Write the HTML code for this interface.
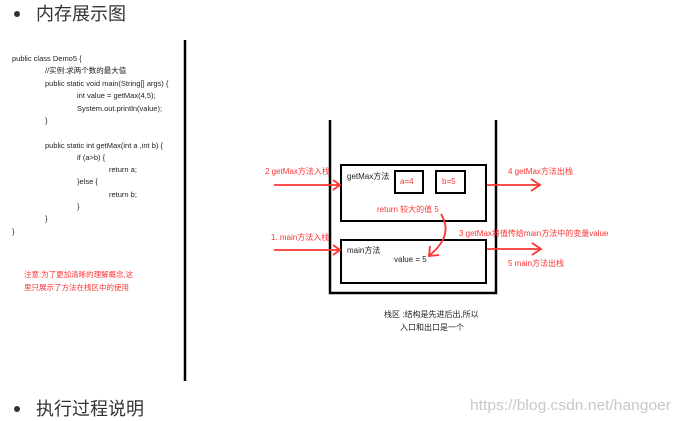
<!DOCTYPE html>
<html><head><meta charset="utf-8"><style>
html,body{margin:0;padding:0;background:#fff;width:681px;height:421px;overflow:hidden}
svg{display:block}
text{font-family:"Liberation Sans","Noto Sans CJK SC",sans-serif}
</style></head><body>
<svg width="681" height="421" viewBox="0 0 681 421">
<circle cx="17" cy="14" r="3" fill="#333"/>
<text x="36" y="20" font-size="18" fill="#333">内存展示图</text>
<circle cx="17" cy="409" r="3" fill="#333"/>
<text x="36" y="415" font-size="18" fill="#333">执行过程说明</text>
<text x="470" y="410" font-size="15" fill="#c8c8c8" textLength="201" lengthAdjust="spacingAndGlyphs">https://blog.csdn.net/hangoer</text>
<line x1="185" y1="40" x2="185" y2="381" stroke="#000" stroke-width="2.5"/>
<g font-size="7.5" fill="#222">
<text x="12" y="61">public class Demo5 {</text>
<text x="45" y="73">//实例:求两个数的最大值</text>
<text x="45" y="86">public static void main(String[] args) {</text>
<text x="77" y="98">int value = getMax(4,5);</text>
<text x="77" y="111">System.out.println(value);</text>
<text x="45" y="123">}</text>
<text x="45" y="148">public  static int getMax(int a ,int b) {</text>
<text x="77" y="160">if (a&gt;b) {</text>
<text x="109" y="172">return a;</text>
<text x="77" y="184">}else {</text>
<text x="109" y="197">return b;</text>
<text x="77" y="209">}</text>
<text x="45" y="221">}</text>
<text x="12" y="234">}</text>
</g>
<g font-size="7.5" fill="#ff3333">
<text x="24" y="277">注意:为了更加清晰的理解概念,这</text>
<text x="24" y="290">里只展示了方法在栈区中的使用</text>
</g>
<path d="M330 120 V293 H496 V120" fill="none" stroke="#000" stroke-width="2.5"/>
<rect x="341" y="165" width="145" height="56" fill="none" stroke="#000" stroke-width="2"/>
<rect x="395" y="171" width="28" height="22" fill="none" stroke="#000" stroke-width="2"/>
<rect x="436" y="171" width="29" height="22" fill="none" stroke="#000" stroke-width="2"/>
<rect x="341" y="240" width="145" height="43" fill="none" stroke="#000" stroke-width="2"/>
<g font-size="8" fill="#222">
<text x="347" y="179">getMax方法</text>
<text x="347" y="253">main方法</text>
<text x="394" y="262">value = 5</text>
<text x="384" y="317">栈区 :结构是先进后出,所以</text>
<text x="400" y="330">入口和出口是一个</text>
</g>
<g font-size="8" fill="#ff3333">
<text x="400" y="184">a=4</text>
<text x="442" y="184">b=5</text>
<text x="377" y="212">return 较大的值 5</text>
<text x="265" y="174">2 getMax方法入栈</text>
<text x="271" y="240">1. main方法入栈</text>
<text x="508" y="174">4 getMax方法出栈</text>
<text x="459" y="236">3 getMax将值传给main方法中的变量value</text>
<text x="508" y="266">5 main方法出栈</text>
</g>
<g stroke="#ff3333" stroke-width="1.8" fill="none">
<line x1="274" y1="185" x2="340" y2="185"/><path d="M333 180 L340 185 L333 190"/>
<line x1="274" y1="250" x2="340" y2="250"/><path d="M333 245 L340 250 L333 255"/>
<line x1="487" y1="185" x2="540" y2="185"/><path d="M531 179 L540 185 L531 191"/>
<line x1="487" y1="249" x2="541" y2="249"/><path d="M532 243 L541 249 L532 255"/>
<path d="M441 214 Q454 235 430 255"/><path d="M430 246 L429 256 L439 255"/>
</g>
</svg>
</body></html>
